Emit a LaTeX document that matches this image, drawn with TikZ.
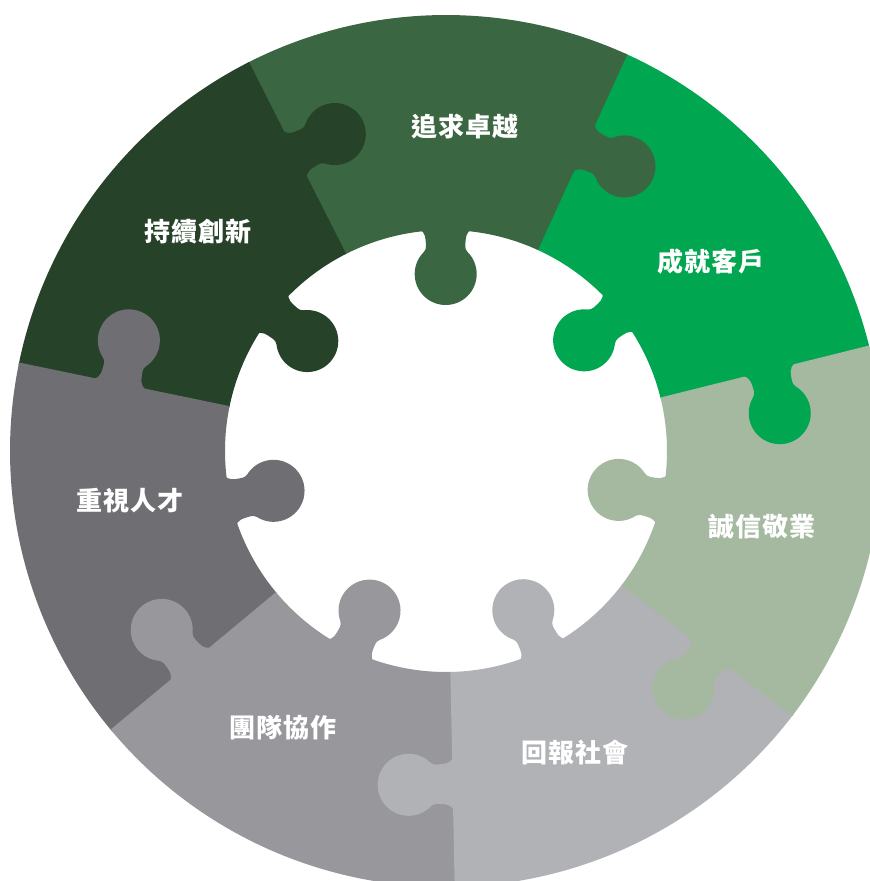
\documentclass[tikz,border=0pt]{standalone}
\usepackage{fontspec}
\newfontfamily\cjk[LetterSpace=5]{Noto Sans CJK TC}
\definecolor{chengjiu}{HTML}{00A650}
\definecolor{zhuiqiu}{HTML}{3B6642}
\definecolor{chixu}{HTML}{26432A}
\definecolor{zhongshi}{HTML}{6F6E73}
\definecolor{tuandui}{HTML}{98979C}
\definecolor{huibao}{HTML}{B1B2B5}
\definecolor{chengxin}{HTML}{A4B9A0}

% one piece of the ring: start angle, end angle, colour
\newcommand{\ringpart}[3]{\fill[#3] (#1:436) arc[start angle=#1,end angle=#2,radius=436]
  -- (#2:221) arc[start angle=#2,end angle=#1,radius=221] -- cycle;}
% one tab: colour, base point, turn
\newcommand{\puzzletab}[3]{\fill[#1,shift={#2},rotate=#3] (-36,-4) -- (-36,-1.5) -- (-29,-1.5)
  .. controls (-24,-1.5) and (-20,4.5) .. (-20,10)
  .. controls (-20,14) and (-18.4,18.6) .. (-21.92,22.08)
  arc[start angle=-135,end angle=-405,radius=31]
  .. controls (18.4,18.6) and (20,14) .. (20,10)
  .. controls (20,4.5) and (24,-1.5) .. (29,-1.5)
  -- (36,-1.5) -- (36,-4) -- cycle;}

\begin{document}
\begin{tikzpicture}[x=1pt,y=1pt,word/.style={text=white,font=\cjk\bfseries\fontsize{26}{26}\selectfont}]
  \useasboundingbox (-446,-430) rectangle (424,451);

  % ring
  \ringpart{13.7}{65.73}{chengjiu}
  \ringpart{65.43}{117.16}{zhuiqiu}
  \ringpart{116.86}{168.59}{chixu}
  \ringpart{168.29}{220.01}{zhongshi}
  \ringpart{219.71}{271.44}{tuandui}
  \ringpart{271.14}{322.87}{huibao}
  \ringpart{322.57}{374}{chengxin}

  % tabs between the pieces
  \puzzletab{chengjiu}{(14:333)}{194}
  \puzzletab{zhuiqiu}{(65.43:333)}{245.43}
  \puzzletab{chixu}{(116.86:333)}{296.86}
  \puzzletab{zhongshi}{(168.29:333)}{348.29}
  \puzzletab{tuandui}{(219.71:333)}{399.71}
  \puzzletab{huibao}{(271.14:333)}{451.14}
  \puzzletab{chengxin}{(322.57:333)}{502.57}

  % tabs into the hole
  \puzzletab{chengjiu}{(38.7:221)}{128.7}
  \puzzletab{zhuiqiu}{(90.1:221)}{180.1}
  \puzzletab{chixu}{(141.6:221)}{231.6}
  \puzzletab{zhongshi}{(193:221)}{283}
  \puzzletab{tuandui}{(244.4:221)}{334.4}
  \puzzletab{huibao}{(295.9:221)}{385.9}
  \puzzletab{chengxin}{(347.3:221)}{437.3}

  \node[word] (t1) at (265,189) {成就客戶};
  \node[word] (t2) at (19,324) {追求卓越};
  \node[word] (t3) at (-248,219) {持續創新};
  \node[word] (t4) at (-316,-50) {重視人才};
  \node[word] (t5) at (-163,-277) {團隊協作};
  \node[word] (t6) at (129,-301) {回報社會};
  \node[word] (t7) at (316,-76) {誠信敬業};
\end{tikzpicture}
\end{document}
